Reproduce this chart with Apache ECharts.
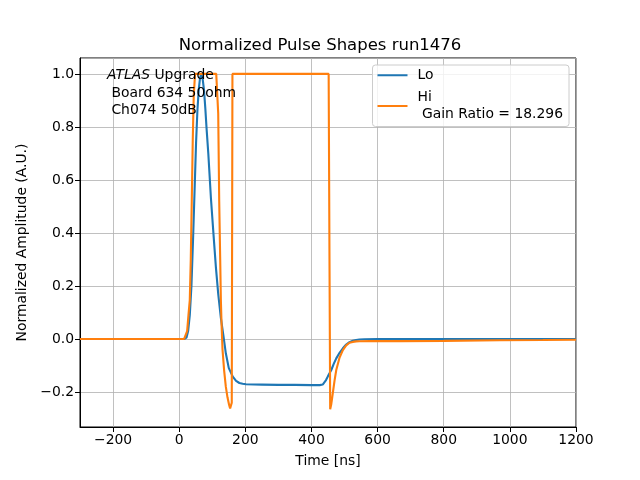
<!DOCTYPE html>
<html>
<head>
<meta charset="utf-8">
<script src="https://cdn.jsdelivr.net/npm/echarts@6/dist/echarts.min.js"></script>
<style>html,body{margin:0;padding:0;background:#fff}#c{width:640px;height:480px}</style>
</head>
<body>
<div id="c"></div>
<script>
// Lo gain pulse (time in ns, normalized amplitude)
var loTime = [-300, -200, -100, 0, 15, 22, 27, 32, 37, 42, 47, 51, 55, 59, 63, 67, 71, 75, 79, 83, 88, 96, 104, 111, 118, 126, 134, 141, 150, 162, 172, 182, 192, 202, 250, 300, 350, 400, 425, 434, 440, 444, 450, 460, 467, 475, 485, 495, 505, 515, 525, 535, 545, 560, 600, 700, 800, 900, 1000, 1100, 1200];
var loAmp  = [0, 0, 0, 0, 0, 0.005, 0.03, 0.09, 0.2, 0.38, 0.58, 0.74, 0.86, 0.94, 0.985, 1.0, 0.98, 0.94, 0.87, 0.79, 0.7, 0.53, 0.39, 0.27, 0.17, 0.08, 0.01, -0.054, -0.11, -0.142, -0.158, -0.166, -0.169, -0.171, -0.172, -0.173, -0.173, -0.174, -0.174, -0.172, -0.165, -0.155, -0.14, -0.117, -0.095, -0.073, -0.052, -0.035, -0.021, -0.012, -0.007, -0.004, -0.002, -0.001, 0, 0, 0, 0, 0, 0, 0];
// Hi gain pulse (saturated)
var hiTime = [-300, -200, -100, 0, 15, 20, 24, 28, 32, 35, 38, 41, 44, 48, 60, 80, 100, 112, 116, 118, 121, 124, 126, 128, 131, 136, 141, 146, 151, 154, 157, 159, 161, 200, 300, 400, 452, 454.5, 456.6, 460, 465, 470, 475, 485, 495, 505, 515, 525, 535, 545, 576, 667, 800, 970, 1100, 1200];
var hiAmp  = [0, 0, 0, 0, 0, 0.002, 0.03, 0.09, 0.147, 0.3, 0.52, 0.75, 0.92, 1.0, 1.0, 1.0, 1.0, 1.0, 1.0, 0.85, 0.52, 0.3, 0.147, 0.06, -0.04, -0.12, -0.18, -0.22, -0.249, -0.262, -0.268, -0.24, 1.0, 1.0, 1.0, 1.0, 1.0, 0.3, -0.265, -0.245, -0.2, -0.155, -0.117, -0.07, -0.042, -0.024, -0.014, -0.011, -0.009, -0.0085, -0.008, -0.008, -0.007, -0.005, -0.004, -0.003];
var seriesNames = ['Lo', 'Hi\n Gain Ratio = 18.296'];
var titleText = 'Normalized Pulse Shapes run1476';
var xLabel = 'Time [ns]';
var yLabel = 'Normalized Amplitude (A.U.)';

function pairs(xs, ys) { return xs.map(function (x, i) { return [x, ys[i]]; }); }
function fmtMinus(s) { return s.replace('-', '\u2212'); }

var FONT = 'DejaVu Sans';
var chart = echarts.init(document.getElementById('c'), null, {renderer: 'canvas'});
chart.setOption({
  animation: false,
  backgroundColor: '#fff',
  textStyle: {fontFamily: FONT},
  title: {
    text: titleText, left: 'center', top: 32,
    textStyle: {fontFamily: FONT, fontSize: 16.5, fontWeight: 'normal', color: '#000'}
  },
  grid: {left: 80, right: 64, top: 58, bottom: 53, show: true, borderColor: '#000', borderWidth: 1, backgroundColor: 'transparent'},
  legend: {
    orient: 'vertical', right: 71, top: 65,
    data: [{name: seriesNames[0]}, {name: seriesNames[1]}],
    icon: 'rect', itemWidth: 30, itemHeight: 2, itemGap: 6,
    padding: [2, 6, 4, 5],
    borderColor: '#cccccc', borderWidth: 1, borderRadius: 3,
    backgroundColor: 'rgba(255,255,255,0.8)',
    textStyle: {fontFamily: FONT, fontSize: 13.9, color: '#000', padding: [0, 0, 0, 5], lineHeight: 16.5}
  },
  xAxis: {
    type: 'value', min: -300, max: 1200, minInterval: 200, maxInterval: 200,
    name: xLabel, nameLocation: 'middle', nameGap: 27,
    nameTextStyle: {fontFamily: FONT, fontSize: 13.9, color: '#000'},
    axisLine: {onZero: false, lineStyle: {color: '#000', width: 1}},
    axisTick: {show: true, inside: false, length: 5, lineStyle: {color: '#000'}},
    axisLabel: {showMinLabel: false, fontFamily: FONT, fontSize: 13.9, color: '#000', margin: 6,
      formatter: function (v) { return fmtMinus(String(Math.round(v))); }},
    splitLine: {show: true, lineStyle: {color: '#b0b0b0', width: 0.8}}
  },
  yAxis: {
    type: 'value', min: -0.332, max: 1.06, minInterval: 0.2, maxInterval: 0.2,
    name: yLabel, nameLocation: 'middle', nameGap: 45, nameRotate: 90,
    nameTextStyle: {fontFamily: FONT, fontSize: 13.9, color: '#000'},
    axisLine: {onZero: false, lineStyle: {color: '#000', width: 1}},
    axisTick: {show: true, inside: false, length: 5, lineStyle: {color: '#000'}},
    axisLabel: {showMinLabel: false, showMaxLabel: false, fontFamily: FONT, fontSize: 13.9, color: '#000', margin: 6,
      formatter: function (v) { return fmtMinus(v.toFixed(1)); }},
    splitLine: {show: true, lineStyle: {color: '#b0b0b0', width: 0.8}}
  },
  graphic: [{
    type: 'text', left: 107, top: 67, z: 100,
    style: {
      text: '{i|ATLAS} Upgrade\n Board 634 50ohm\n Ch074 50dB',
      font: '13.9px "DejaVu Sans"', fill: '#000', lineHeight: 17.5,
      rich: {i: {fontStyle: 'italic', fontFamily: FONT, fontSize: 13.9, fill: '#000', lineHeight: 17.5}}
    }
  }],
  series: [
    {name: seriesNames[0], type: 'line', data: pairs(loTime, loAmp), symbol: 'none', showSymbol: false,
     lineStyle: {color: '#1f77b4', width: 2.1}, itemStyle: {color: '#1f77b4'}, z: 2},
    {name: seriesNames[1], type: 'line', data: pairs(hiTime, hiAmp), symbol: 'none', showSymbol: false,
     lineStyle: {color: '#ff7f0e', width: 2.1}, itemStyle: {color: '#ff7f0e'}, z: 3}
  ]
});
</script>
</body>
</html>
